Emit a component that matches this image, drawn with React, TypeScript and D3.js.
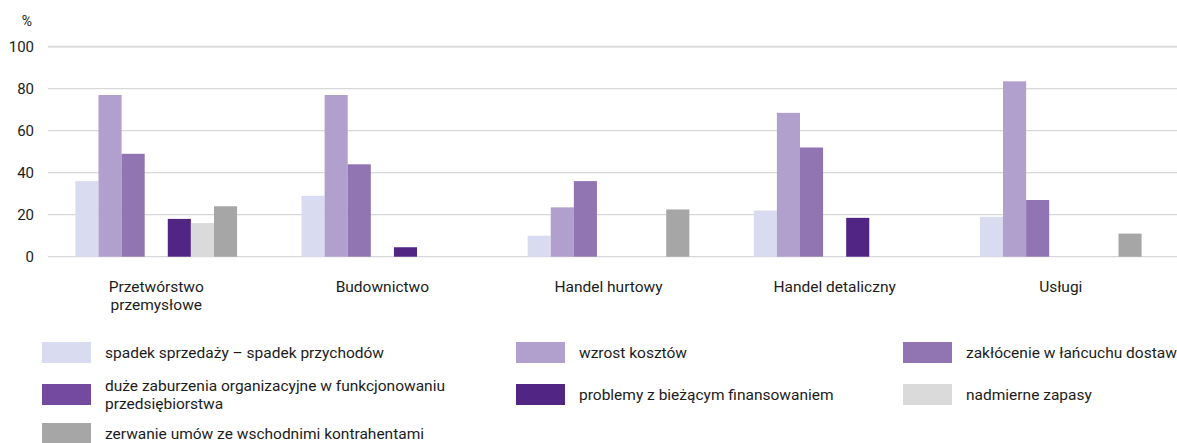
import React from "react";
import * as d3 from "d3";

const categories = [
  "Przetwórstwo\nprzemysłowe",
  "Budownictwo",
  "Handel hurtowy",
  "Handel detaliczny",
  "Usługi",
];

const seriesNames = [
  "spadek sprzedaży – spadek przychodów",
  "wzrost kosztów",
  "zakłócenie w łańcuchu dostaw",
  "duże zaburzenia organizacyjne w funkcjonowaniu\nprzedsiębiorstwa",
  "problemy z bieżącym finansowaniem",
  "nadmierne zapasy",
  "zerwanie umów ze wschodnimi kontrahentami",
];

const seriesColors = [
  "#d9dcf0",
  "#b19fcd",
  "#9175b3",
  "#7449a0",
  "#512584",
  "#dadada",
  "#a6a6a6",
];

// values per series, in category order
const spadekSprzedazy = [36, 29, 10, 22, 19];
const wzrostKosztow = [77, 77, 23.5, 68.5, 83.5];
const zaklocenieDostaw = [49, 44, 36, 52, 27];
const zaburzeniaOrganizacyjne = [0, 0, 0, 0, 0];
const problemyFinansowanie = [18, 4.5, 0, 18.5, 0];
const nadmierneZapasy = [16, 0, 0, 0, 0];
const zerwanieUmow = [24, 0, 22.5, 0, 11];

const seriesValues = [
  spadekSprzedazy,
  wzrostKosztow,
  zaklocenieDostaw,
  zaburzeniaOrganizacyjne,
  problemyFinansowanie,
  nadmierneZapasy,
  zerwanieUmow,
];

const yTicks = [0, 20, 40, 60, 80, 100];

const W = 1177;
const H = 443;
const FONT = "Roboto, 'Noto Sans', sans-serif";
const TEXT = "#1c1c1c";

export default function App() {
  const x0 = d3
    .scaleBand<string>()
    .domain(categories)
    .range([46, 1171])
    .paddingInner(0.285)
    .paddingOuter(0.13);
  const x1 = d3
    .scaleBand<number>()
    .domain(d3.range(seriesNames.length))
    .range([0, x0.bandwidth()])
    .padding(0);
  const y = d3.scaleLinear().domain([0, 100]).range([256.7, 46.7]);

  const legendCols = [42, 516, 903];
  const legendRows = [342, 384, 423];
  const lh = 18;

  return (
    <div style={{ position: "fixed", left: 0, top: 0 }}>
      <svg width={W} height={H} style={{ display: "block", background: "#fff" }} fontFamily={FONT}>
        {/* gridlines */}
        {yTicks.map((t) => (
          <line
            key={"g" + t}
            x1={48}
            x2={W}
            y1={y(t)}
            y2={y(t)}
            stroke={t === 100 ? "#dcdcdc" : "#cfcfd3"}
            strokeWidth={t === 100 ? 2 : 1}
          />
        ))}
        {/* y tick labels */}
        {yTicks.map((t) => (
          <text
            key={"t" + t}
            x={34}
            y={y(t)}
            dy="0.36em"
            textAnchor="end"
            fontSize={15}
            fill={TEXT}
          >
            {t}
          </text>
        ))}
        <text x={27} y={21} dy="0.36em" textAnchor="middle" fontSize={14} fill={TEXT}>
          %
        </text>

        {/* bars */}
        {categories.map((c, ci) => (
          <g key={c} transform={`translate(${x0(c)},0)`}>
            {seriesValues.map((vals, si) =>
              vals[ci] > 0 ? (
                <rect
                  key={si}
                  x={x1(si)}
                  y={y(vals[ci])}
                  width={x1.bandwidth()}
                  height={y(0) - y(vals[ci])}
                  fill={seriesColors[si]}
                />
              ) : null
            )}
          </g>
        ))}

        {/* category labels */}
        {categories.map((c) => {
          const cx = (x0(c) as number) + x0.bandwidth() / 2;
          return (
            <text key={"c" + c} x={cx} y={292} textAnchor="middle" fontSize={15.5} fill={TEXT}>
              {c.split("\n").map((line, i) => (
                <tspan key={i} x={cx} dy={i === 0 ? 0 : lh}>
                  {line}
                </tspan>
              ))}
            </text>
          );
        })}

        {/* legend */}
        {seriesNames.map((name, si) => {
          const col = si % 3;
          const row = Math.floor(si / 3);
          const sx = legendCols[col];
          const sy = legendRows[row];
          const lines = name.split("\n");
          const cy = sy + 10.5;
          const startY = cy - ((lines.length - 1) * lh) / 2;
          return (
            <g key={"l" + si}>
              <rect x={sx} y={sy} width={49} height={21} fill={seriesColors[si]} />
              <text x={sx + 63} y={startY} fontSize={15.5} fill={TEXT}>
                {lines.map((line, i) => (
                  <tspan key={i} x={sx + 63} dy={i === 0 ? "0.36em" : lh}>
                    {line}
                  </tspan>
                ))}
              </text>
            </g>
          );
        })}
      </svg>
    </div>
  );
}
